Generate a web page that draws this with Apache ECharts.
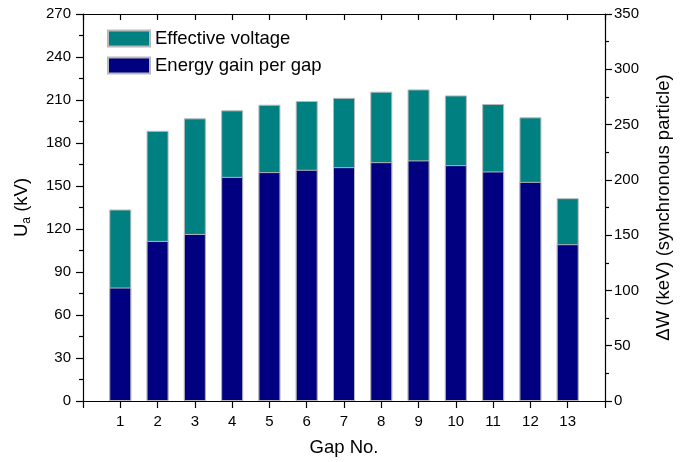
<!DOCTYPE html>
<html><head><meta charset="utf-8">
<script src="https://cdn.jsdelivr.net/npm/echarts@6/dist/echarts.min.js"></script>
<style>html,body{margin:0;padding:0;background:#fff}#c{width:681px;height:462px}</style>
</head><body><div id="c"></div>
<script>
const gaps = [1,2,3,4,5,6,7,8,9,10,11,12,13];
const effectiveVoltage = [133.6,188.5,197.2,202.8,206.7,209.3,211.5,215.8,217.4,213.2,207.2,197.9,141.5];
const energyGain = [102.6,144.8,151.1,202.7,207.0,209.1,211.5,216.0,217.6,213.3,207.6,198.2,141.8];
const leftTicks = {min:0,max:270,interval:30};
const rightTicks = {min:0,max:350,interval:50};

const font = 'Liberation Sans, Arial, sans-serif';
const chart = echarts.init(document.getElementById('c'));
const ls = () => ({color:'#000',width:1.2});
chart.setOption({
  animation:false,
  backgroundColor:'#fff',
  textStyle:{fontFamily:font},
  grid:{left:83,right:74,top:14,bottom:61},
  legend:{
    left:107,top:29,orient:'vertical',itemWidth:42,itemHeight:16,itemGap:8,padding:0,
    icon:'rect',
    textStyle:{fontSize:18.5,color:'#000',fontFamily:font},
    data:['Effective voltage','Energy gain per gap']
  },
  xAxis:[
    {
      type:'value',min:0,max:14,interval:1,position:'bottom',
      name:'Gap No.',nameLocation:'middle',nameGap:37,
      nameTextStyle:{fontSize:18.5,color:'#000',fontFamily:font},
      axisLine:{show:true,onZero:false,lineStyle:ls()},
      axisTick:{show:true,length:7,lineStyle:ls()},
      splitLine:{show:false},
      axisLabel:{fontSize:15,color:'#000',margin:13,fontFamily:font,
        formatter:v=>(v>=1&&v<=13)?String(v):''}
    },
    {
      type:'value',min:0,max:14,interval:1,position:'top',z:10,
      axisLine:{show:true,onZero:false,lineStyle:ls()},
      axisTick:{show:true,inside:true,length:6,lineStyle:ls()},
      splitLine:{show:false},
      axisLabel:{show:true,inside:true,margin:2,fontSize:1,color:'#fff',formatter:()=>' '}
    }
  ],
  yAxis:[
    {
      type:'value',min:leftTicks.min,max:leftTicks.max,interval:leftTicks.interval,position:'left',
      name:'{n|U}{s|a}{n| (kV)}',nameLocation:'middle',nameGap:50,
      nameTextStyle:{rich:{n:{fontSize:18.5,color:'#000',fontFamily:font},s:{fontSize:12,color:'#000',fontFamily:font,verticalAlign:'bottom',padding:[10,0,0,0]}}},
      axisLine:{show:true,onZero:false,lineStyle:ls()},
      axisTick:{show:true,length:7,lineStyle:ls()},
      minorTick:{show:true,splitNumber:2,length:4,lineStyle:ls()},
      splitLine:{show:false},
      axisLabel:{fontSize:15,color:'#000',margin:12,fontFamily:font}
    },
    {
      type:'value',min:rightTicks.min,max:rightTicks.max,interval:rightTicks.interval,position:'right',
      name:'ΔW (keV) (synchronous particle)',nameLocation:'middle',nameGap:49,nameRotate:90,
      nameTextStyle:{fontSize:18.5,color:'#000',fontFamily:font},
      axisLine:{show:true,onZero:false,lineStyle:ls()},
      axisTick:{show:true,length:7,lineStyle:ls()},
      minorTick:{show:true,splitNumber:2,length:4,lineStyle:ls()},
      splitLine:{show:false},
      axisLabel:{fontSize:15,color:'#000',margin:9,fontFamily:font}
    }
  ],
  series:[
    {name:'Effective voltage',type:'bar',xAxisIndex:0,yAxisIndex:0,barWidth:22,
     itemStyle:{color:'#008080',borderColor:'#b8b8b8',borderWidth:1},
     data:gaps.map((g,i)=>[g,effectiveVoltage[i]])},
    {name:'Energy gain per gap',type:'bar',xAxisIndex:1,yAxisIndex:1,barWidth:22,
     itemStyle:{color:'#000080',borderColor:'#b8b8b8',borderWidth:1},
     data:gaps.map((g,i)=>[g,energyGain[i]])}
  ]
});
</script></body></html>
